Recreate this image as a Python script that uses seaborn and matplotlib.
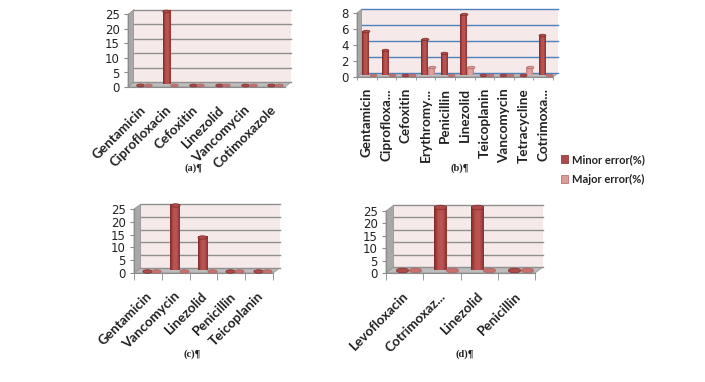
import numpy as np
import pandas as pd
import matplotlib
matplotlib.use("Agg")
import matplotlib.pyplot as plt
import seaborn as sns
from matplotlib.colors import LinearSegmentedColormap
from matplotlib.markers import MarkerStyle
from matplotlib.patches import Polygon
from matplotlib.transforms import Affine2D

#data
series_names = ["Minor error(%)", "Major error(%)"]

drugs_a = ["Gentamicin", "Ciprofloxacin", "Cefoxitin", "Linezolid", "Vancomycin", "Cotimoxazole"]
minor_a = [0, 25.5, 0, 0, 0, 0]
major_a = [0, 0, 0, 0, 0, 0]

drugs_b = ["Gentamicin", "Ciprofloxa...", "Cefoxitin", "Erythromy...", "Penicillin", "Linezolid",
           "Teicoplanin", "Vancomycin", "Tetracycline", "Cotrimoxa..."]
minor_b = [5.5, 3.1, 0, 4.5, 2.7, 7.6, 0, 0, 0, 5.0]
major_b = [0, 0, 0, 1, 0, 1, 0, 0, 1, 0]

drugs_c = ["Gentamicin", "Vancomycin", "Linezolid", "Penicillin", "Teicoplanin"]
minor_c = [0, 25.5, 13, 0, 0]
major_c = [0, 0, 0, 0, 0]

drugs_d = ["Levofloxacin", "Cotrimoxaz...", "Linezolid", "Penicillin"]
minor_d = [0, 25.5, 25.5, 0]
major_d = [0, 0, 0, 0]

yticks_big = [0, 5, 10, 15, 20, 25]
yticks_small = [0, 2, 4, 6, 8]

W, H = 705, 382
colors = ["#b04a48", "#dc9a98"]
edges = ["#7d2b29", "#a86664"]
flat = ["#b04a48", "#c8706e"]
shades = [LinearSegmentedColormap.from_list("m", ["#7d2b29", "#b9504e", "#bb5553", "#8a3230"]),
          LinearSegmentedColormap.from_list("n", ["#c47f7d", "#e2a3a1", "#e0a09e", "#c88583"])]

fig = plt.figure(figsize=(W / 100, H / 100), dpi=100, facecolor="white")


def px_rect(x0, x1, y_top, y_bot):
    return [x0 / W, 1 - y_bot / H, (x1 - x0) / W, (y_bot - y_top) / H]


def px_poly(points, color):
    pts = [(x / W, 1 - y / H) for x, y in points]
    fig.add_artist(Polygon(pts, closed=True, transform=fig.transFigure, facecolor=color,
                           edgecolor="#8c8c8c", linewidth=0.5, zorder=0))


def panel(x0, x1, y_top, y_bot, dx, dy, drugs, minor, major, ymax, yticks, grid_color,
          rotation, caption, cap_xy, tick_len, bar_w):
    # side wall and floor of the fake 3d box
    px_poly([(x0, y_top), (x0 + dx, y_top - dy), (x0 + dx, y_bot - dy), (x0, y_bot)], "#a8a8a8")
    px_poly([(x0, y_bot), (x0 + dx, y_bot - dy), (x1 + dx, y_bot - dy), (x1, y_bot)], "#bdbdbd")

    wall = fig.add_axes(px_rect(x0 + dx, x1 + dx, y_top - dy, y_bot - dy), facecolor="#f5e9e9", zorder=1)
    wall.set_ylim(0, ymax)
    wall.set_xlim(0, 1)
    wall.set_xticks([])
    wall.set_yticks(yticks)
    wall.tick_params(left=False, labelleft=False)
    wall.grid(axis="y", color=grid_color, linewidth=1)
    for line in wall.get_ygridlines():
        line.set_clip_on(False)
    for s in wall.spines.values():
        s.set_visible(False)

    front = fig.add_axes(px_rect(x0, x1, y_top, y_bot), facecolor="none", zorder=2)
    front.set_xlim(-0.5, len(drugs) - 0.5)
    front.set_ylim(0, ymax)
    front.set_yticks(yticks)
    front.tick_params(axis="y", labelsize=8.5, length=3, color="#8c8c8c", pad=3, labelcolor="#222222")
    front.set_xticks(range(len(drugs)))
    front.set_xticklabels(drugs, rotation=rotation, ha="right" if rotation == 45 else "center",
                          rotation_mode="anchor" if rotation == 45 else "default",
                          fontsize=9.7, fontfamily="Lato", fontweight="bold", color="#222222")
    front.tick_params(axis="x", length=0, pad=12 if rotation == 45 else 8)
    if rotation == 45:
        nudge = Affine2D().translate(-2, 0)
        for lab in front.get_xticklabels():
            lab.set_transform(lab.get_transform() + nudge)
    front.set_xticks(np.arange(len(drugs) + 1) - 0.5, minor=True)
    front.tick_params(axis="x", which="minor", length=tick_len, color="#8c8c8c")
    for name, s in front.spines.items():
        s.set_visible(name in ("left", "bottom"))
        s.set_color("#8c8c8c")

    # bars stand half way into the box
    bars = fig.add_axes(px_rect(x0 + dx / 2, x1 + dx / 2, y_top - dy / 2, y_bot - dy / 2),
                        facecolor="none", zorder=3)
    df = pd.DataFrame({"drug": drugs * 2,
                       "value": list(minor) + list(major),
                       "series": [series_names[0]] * len(drugs) + [series_names[1]] * len(drugs)})
    sns.barplot(data=df, x="drug", y="value", hue="series", hue_order=series_names,
                palette=colors, saturation=1, width=bar_w, gap=0, legend=False, ax=bars)
    bars.set_xlim(-0.5, len(drugs) - 0.5)
    bars.set_ylim(0, ymax)
    cat_px = (x1 - x0) / len(drugs)
    for k, cont in enumerate(bars.containers):
        for bar in cont:
            bx, bw, bh = bar.get_x(), bar.get_width(), bar.get_height()
            bar.set_clip_on(False)
            if bh > 0:
                bar.set_facecolor("none")
                bars.imshow(np.linspace(0, 1, 32).reshape(1, -1), extent=(bx, bx + bw, 0, bh), aspect="auto",
                            cmap=shades[k], zorder=2, clip_on=False)
            size = (bw * cat_px * 0.72) ** 2
            oval = MarkerStyle("o", transform=Affine2D().scale(1, 0.38))
            bars.scatter([bx + bw / 2], [bh], s=size, marker=oval, color=colors[k] if bh > 0 else flat[k],
                         edgecolors=edges[k], linewidths=0.5, zorder=3, clip_on=False)
    bars.set_xlim(-0.5, len(drugs) - 0.5)
    bars.set_ylim(0, ymax)
    bars.axis("off")

    fig.text(cap_xy[0] / W, 1 - cap_xy[1] / H, caption, ha="center", va="center",
             fontsize=7.5, fontfamily="Liberation Serif", fontweight="bold", color="#222222")
    return bars


gray = "#8f8f8f"
panel(128, 285, 14.5, 87, 6, 5, drugs_a, minor_a, major_a, 25, yticks_big, gray, 45, "(a)¶", (193, 168), 0, 0.58)
panel(357, 553, 13, 77, 5, 4, drugs_b, minor_b, major_b, 8, yticks_small, "#4f81bd", 90, "(b)¶", (460, 168), 2, 0.7)
panel(134, 273, 209, 273, 7, 5, drugs_c, minor_c, major_c, 25, yticks_big, gray, 45, "(c)¶", (192, 354), 5, 0.66)
panel(386, 535, 211, 273, 8, 6, drugs_d, minor_d, major_d, 25, yticks_big, gray, 45, "(d)¶", (465, 354), 5, 0.66)

# legend next to panel b
handles = [plt.Rectangle((0, 0), 1, 1, facecolor=c, edgecolor=e, linewidth=0.5) for c, e in zip(colors, edges)]
fig.legend(handles, series_names, loc="upper left", bbox_to_anchor=(553 / W, 1 - 146 / H), frameon=False,
           prop={"family": "Lato", "weight": "bold", "size": 8}, labelspacing=0.8,
           handlelength=0.65, handleheight=0.65, handletextpad=0.35, borderpad=0.2, labelcolor="#222222")

fig.savefig("out.png", dpi=100)
